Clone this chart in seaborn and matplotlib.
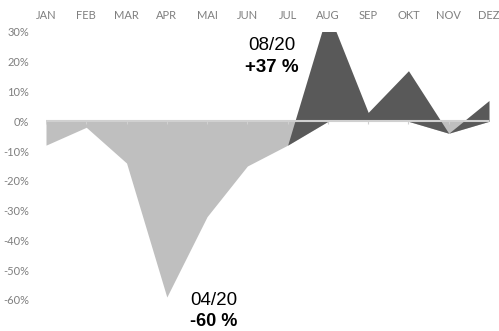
import numpy as np
import pandas as pd
import matplotlib
matplotlib.use("Agg")
import matplotlib.pyplot as plt
import seaborn as sns

months = ["JAN", "FEB", "MAR", "APR", "MAI", "JUN", "JUL", "AUG", "SEP", "OKT", "NOV", "DEZ"]
# stacked area series (percent)
base_vals = [-8, -2, -14, -59, -32, -15, -8, 0, 0, 0, -4, 0]     # light grey
extra_vals = [0, 0, 0, 0, 0, 0, 0, 37, 3, 17, 0, 7]               # dark, stacked on top
ytick_vals = [30, 20, 10, 0, -10, -20, -30, -40, -50, -60]

df = pd.DataFrame({"month": months, "idx": np.arange(len(months)),
                   "base": base_vals, "extra": extra_vals})
df["total"] = df["base"] + df["extra"]

sns.set_style("white")
plt.rcParams["font.family"] = ["Lato", "DejaVu Sans"]

fig = plt.figure(figsize=(4.99, 3.31), dpi=100)
ax = fig.add_axes([46/499, 1 - 300/331, (489-46)/499, 268/331])

light = "#bfbfbf"
dark = "#595959"

sns.lineplot(data=df, x="idx", y="base", ax=ax, color=light, linewidth=0)
sns.lineplot(data=df, x="idx", y="total", ax=ax, color=dark, linewidth=0)
ax.fill_between(df["idx"], 0, df["base"], color=light, linewidth=0, zorder=1)
ax.fill_between(df["idx"], df["base"], df["total"], color=dark, linewidth=0, zorder=2)

# zero axis line with small tick marks
ax.axhline(0, color="#d0d0d0", linewidth=1.5, zorder=3)
ax.vlines(df["idx"], 0, -1.0, color="#d0d0d0", linewidth=0.8, zorder=3)

ax.set_xlim(0, len(months) - 1)
ax.set_ylim(-60, 30)
ax.xaxis.tick_top()
ax.set_xticks(df["idx"])
ax.set_xticklabels(months)
ax.set_yticks(ytick_vals)
ax.set_yticklabels([f"{v}%" for v in ytick_vals])
ax.tick_params(axis="x", length=0, pad=8, labelsize=8, labelcolor="#7f7f7f")
ax.tick_params(axis="y", length=0, pad=12, labelsize=8, labelcolor="#7f7f7f")
ax.set_xlabel("")
ax.set_ylabel("")
for s in ax.spines.values():
    s.set_visible(False)
ax.grid(False)

tfont = ["Liberation Sans", "DejaVu Sans"]
ax.text(5.61, 25.5, "08/20", ha="center", va="center", fontsize=13.5, family=tfont, color="black")
ax.text(5.61, 18.1, "+37 %", ha="center", va="center", fontsize=13.5, family=tfont,
        fontweight="bold", color="black")
ax.text(4.17, -60.1, "04/20", ha="center", va="center", fontsize=13.5, family=tfont,
        color="black", clip_on=False)
ax.text(4.17, -67.3, "-60 %", ha="center", va="center", fontsize=13, family=tfont,
        fontweight="bold", color="black", clip_on=False)

fig.savefig("out.png", dpi=100)
